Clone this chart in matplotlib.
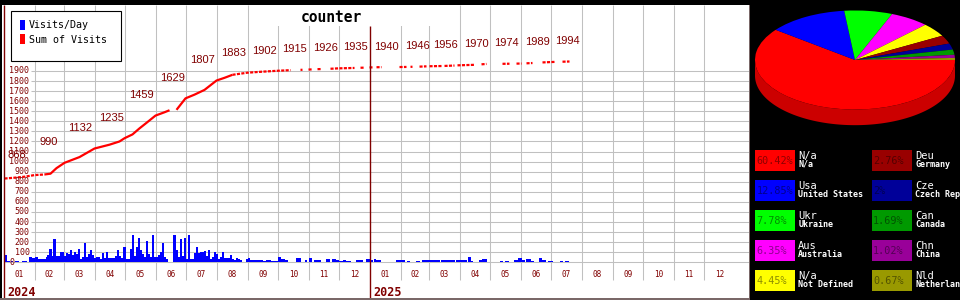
import numpy as np
import matplotlib
matplotlib.use('Agg')
import matplotlib.pyplot as plt
import matplotlib.colors as mcolors
from matplotlib.patches import Rectangle, Polygon

nan = np.nan

# === DATA ===
# visits per day (chart scale), one list per month
jan24 = [75, 75, 75, 15, 15, 15, 0, 15, 15, 0, 0, 15, 15, 15, 15, 0, 0, 0, 15, 15, 15, 15, 15, 0, 0, 57, 57, 57, 47, 47, 47]
feb24 = [57, 57, 57, 35, 35, 35, 35, 35, 35, 35, 35, 50, 73, 73, 133, 133, 133, 60, 230, 230, 230, 67, 67, 67, 67, 107, 107, 107, 107]
mar24 = [67, 67, 97, 97, 80, 80, 123, 123, 73, 73, 100, 100, 80, 80, 133, 133, 33, 33, 57, 57, 187, 187, 57, 57, 80, 80, 120, 120, 73, 73, 47]
apr24 = [47, 57, 57, 57, 57, 33, 33, 90, 90, 40, 40, 107, 107, 40, 40, 40, 40, 40, 40, 40, 67, 67, 123, 123, 67, 67, 47, 47, 147, 147]
may24 = [147, 33, 33, 33, 33, 133, 133, 273, 273, 67, 67, 147, 147, 240, 240, 123, 123, 80, 80, 57, 57, 213, 213, 80, 80, 57, 57, 273, 273, 57, 57]
jun24 = [57, 57, 73, 73, 107, 107, 187, 187, 57, 57, 33, 33, 0, 0, 0, 0, 0, 273, 273, 273, 123, 123, 57, 57, 227, 227, 67, 67, 240, 240]
jul24 = [33, 33, 267, 267, 33, 33, 33, 33, 90, 90, 147, 147, 90, 90, 107, 107, 107, 107, 110, 110, 67, 67, 123, 123, 33, 33, 57, 57, 107, 107, 80]
aug24 = [80, 33, 33, 57, 57, 107, 107, 47, 47, 40, 40, 40, 40, 73, 73, 33, 33, 23, 23, 40, 40, 33, 33, 23, 23, 0, 0, 0, 0, 33, 33]
sep24 = [47, 47, 23, 23, 23, 20, 23, 23, 23, 20, 23, 23, 23, 20, 23, 10, 10, 10, 20, 20, 20, 20, 20, 17, 17, 17, 17, 17, 17, 17]
oct24 = [50, 50, 50, 30, 30, 30, 30, 20, 20, 20, 0, 0, 0, 0, 0, 0, 0, 0, 40, 40, 40, 40, 40, 0, 0, 0, 0, 20, 20, 0, 0]
nov24 = [47, 47, 47, 0, 0, 20, 20, 20, 20, 20, 20, 20, 0, 0, 0, 0, 0, 30, 30, 30, 30, 0, 0, 33, 33, 33, 33, 20, 20, 20]
dec24 = [17, 17, 17, 17, 20, 20, 20, 17, 17, 17, 17, 17, 0, 0, 0, 0, 0, 20, 20, 20, 20, 20, 20, 20, 0, 0, 0, 30, 30, 30, 30]
jan25 = [20, 20, 20, 0, 30, 30, 25, 25, 25, 25, 25, 0, 0, 0, 0, 0, 0, 0, 0, 0, 0, 0, 0, 0, 0, 0, 20, 20, 20, 20, 20]
feb25 = [20, 20, 20, 20, 0, 0, 15, 15, 15, 0, 0, 0, 0, 0, 0, 15, 15, 15, 15, 0, 0, 20, 20, 20, 20, 20, 20, 20]
mar25 = [20, 20, 20, 20, 20, 20, 20, 20, 20, 20, 20, 0, 20, 20, 20, 20, 20, 20, 20, 20, 20, 20, 20, 20, 20, 20, 0, 20, 20, 20, 20]
apr25 = [25, 25, 25, 25, 25, 25, 25, 0, 55, 55, 55, 15, 15, 0, 0, 0, 0, 0, 0, 20, 20, 20, 35, 35, 35, 35, 35, 0, 0, 0]
may25 = [0, 0, 0, 0, 0, 0, 0, 0, 0, 0, 15, 15, 15, 0, 0, 15, 15, 15, 15, 0, 0, 0, 0, 0, 20, 20, 20, 20, 45, 45, 45]
jun25 = [45, 20, 20, 20, 0, 30, 30, 30, 30, 30, 15, 15, 15, 0, 0, 0, 0, 0, 45, 45, 45, 20, 20, 20, 20, 0, 0, 15, 15, 15]
jul25 = [15, 15, 0, 0, 0, 0, 0, 0, 0, 15, 15, 15, 0, 0, 15, 15, 15, 15, 0, 0, 0, 0, 0, 0, 0, 0, 0, 0, 0, 0, 0]

# sum of visits (day index from 2024-01-01, nan = no data)
sum_days = [0, 10, 20, 30, 40, 46, 52, 60, 75, 90, 105, 115, 120, 128, 135, 142, 151, 160, 165, 168,
            172, 178, 181, 190, 200, 212, 220, 228, 243, 258, 273, 286, 290, 296, 298, 300, 304, 308,
            310, 313, 317, 320, 326, 334, 350, 353, 356, 360, 362, 365, 368, 370, 372, 377, 385, 395,
            402, 404, 406, 408, 411, 415, 422, 423, 425, 437, 438, 440, 450, 451, 453, 470, 473, 477,
            482, 490, 498, 505, 508, 512, 517, 519, 522, 528, 532, 538, 550, 554, 558, 565]
sum_vals = [832, 840, 850, 866, 872, 880, 935, 988, 1045, 1130, 1168, 1200, 1232, 1270, 1330, 1385, 1457, 1490, 1510, nan,
            1514, 1590, 1628, 1665, 1712, 1805, 1832, 1862, 1883, 1893, 1902, 1908, nan, 1911, 1912, nan, 1914, 1916,
            nan, 1918, 1919, nan, 1922, 1926, 1930, nan, 1932, 1933, nan, 1935, 1936, nan, 1937, 1938, nan, 1939,
            1940, nan, 1941, 1942, nan, 1943, 1946, nan, 1947, 1949, nan, 1950, 1954, nan, 1956, 1961, nan, 1966,
            1970, nan, 1971, 1972, nan, 1973, 1974, nan, 1976, 1979, nan, 1985, 1990, nan, 1992, 1994]

# total at the end of each month (labels)
month_totals = [868, 990, 1132, 1235, 1459, 1629, 1807, 1883, 1902, 1915, 1926, 1935,
                1940, 1946, 1956, 1970, 1974, 1989, 1994]

months = ['01', '02', '03', '04', '05', '06', '07', '08', '09', '10', '11', '12']
years = ['2024', '2025']
days_2024 = [31, 29, 31, 30, 31, 30, 31, 31, 30, 31, 30, 31]
days_2025 = [31, 28, 31, 30, 31, 30, 31, 31, 30, 31, 30, 31]

# countries
country_pct = [60.42, 12.85, 7.78, 6.35, 4.45, 2.76, 2, 1.69, 1.02, 0.67]
country_code = ['N/a', 'Usa', 'Ukr', 'Aus', 'N/a', 'Deu', 'Cze', 'Can', 'Chn', 'Nld']
country_name = ['N/a', 'United States', 'Ukraine', 'Australia', 'Not Defined',
                'Germany', 'Czech Republic', 'Canada', 'China', 'Netherlands']
country_colors = ['#ff0000', '#0000ff', '#00ff00', '#ff00ff', '#ffff00',
                  '#990000', '#000099', '#009900', '#990099', '#999900']

# === STILE ===
MONO = 'DejaVu Sans Mono'
DARKRED = '#800000'
GRID = '#c0c0c0'

fig = plt.figure(figsize=(9.6, 3.0), dpi=100)
fig.patch.set_facecolor('white')

# === GRAFICO VISITE ===
ax = fig.add_axes([0, 0, 750 / 960, 1], zorder=1)
ax.set_xlim(-4, 746)
ax.set_ylim(-374.4, 2604.8)
ax.axis('off')

month_len = days_2024 + days_2025
month_start = np.concatenate([[0], np.cumsum(month_len)[:-1]])
month_mid = month_start + np.array(month_len) / 2
year_start = [0, sum(days_2024)]

ax.hlines(range(100, 2000, 100), 27, 744.5, color=GRID, lw=0.75, zorder=1)
ax.hlines(0, 0, 744.5, color=GRID, lw=0.75, zorder=1)
ax.vlines([s for s in month_start if s not in year_start], -176, 2560, color=GRID, lw=0.75, zorder=1)
ax.vlines(year_start[1], -355, 2346, color=DARKRED, lw=1.0, zorder=4)
ax.vlines(-0.5, -355, 2560, color=DARKRED, lw=1.0, zorder=4)

visits = np.array(jan24 + feb24 + mar24 + apr24 + may24 + jun24 + jul24 + aug24 + sep24 + oct24 +
                  nov24 + dec24 + jan25 + feb25 + mar25 + apr25 + may25 + jun25 + jul25)
days = np.arange(len(visits))
has = visits > 0
ax.bar(days[has], visits[has], width=1, align='edge', color='#0000ff', linewidth=0, zorder=2)

sd = np.array(sum_days)
sv = np.array(sum_vals, dtype=float)
solid = np.where((sd >= 40) & (sd <= 228), sv, nan)
dotted = np.where((sd <= 40) | (sd >= 228), sv, nan)
ax.plot(sd + 0.5, solid, color='#ff0000', lw=1.6, solid_capstyle='butt', zorder=3)
ax.plot(sd + 0.5, dotted, color='#ff0000', lw=1.6, dashes=(1.4, 0.6), zorder=3)

for i, tot in enumerate(month_totals):
    ax.text(month_start[i] + 4, tot + 200, str(tot), ha='left', va='center',
            fontsize=8, family='Liberation Sans', color=DARKRED, zorder=5)

for v in range(100, 2000, 100):
    ax.text(25.5, v, str(v), ha='right', va='center', fontsize=6, family=MONO, color=DARKRED)
ax.text(6, 0, '0', ha='left', va='center', fontsize=6, family=MONO, color=DARKRED)

for i in range(len(month_start)):
    ax.text(month_mid[i], -118, months[i % 12], ha='center', va='center',
            fontsize=5.5, family=MONO, color=DARKRED)
for s, y in zip(year_start, years):
    ax.text(s + 3, -295, y, ha='left', va='center', fontsize=8.5, family=MONO,
            weight='bold', color=DARKRED)

# === CORNICE, LEGENDA, TITOLO ===
ov = fig.add_axes([0, 0, 1, 1], zorder=2)
ov.set_xlim(0, 960)
ov.set_ylim(300, 0)
ov.axis('off')
ov.add_patch(Rectangle((750, 0), 210, 300, color='black', lw=0))
ov.add_patch(Rectangle((0, 0), 750, 4.5, color='black', lw=0))
ov.add_patch(Rectangle((0, 0), 1.5, 300, color='black', lw=0))
ov.add_patch(Rectangle((0, 298), 750, 2, color='#7a6868', lw=0))
ov.add_patch(Rectangle((748.5, 4.5), 1.5, 295.5, color='#7a6868', lw=0))

ov.add_patch(Rectangle((251, 4.5), 206, 21.5, color='white', lw=0))
ov.text(331, 18, 'counter', ha='center', va='center', fontsize=10.5, family=MONO, weight='bold')

ov.add_patch(Rectangle((10.5, 10.5), 110, 50, facecolor='white', edgecolor='black', lw=0.8))
ov.add_patch(Rectangle((20, 20), 5.3, 10, color='#0000ff', lw=0))
ov.add_patch(Rectangle((20, 34.3), 5.3, 10, color='#ff0000', lw=0))
ov.text(29, 25.5, 'Visits/Day', ha='left', va='center', fontsize=7.2, family=MONO)
ov.text(29, 39.8, 'Sum of Visits', ha='left', va='center', fontsize=7.2, family=MONO)

# legenda paesi
for i, (p, code, name, c) in enumerate(zip(country_pct, country_code, country_name, country_colors)):
    bx = 755 if i < 5 else 871.7
    by = 150 + 30 * (i % 5)
    ov.add_patch(Rectangle((bx, by), 40, 20.7, color=c, lw=0))
    ov.text(bx + 1.5, by + 10.8, f'{p:g}%', ha='left', va='center', fontsize=7.3,
            family=MONO, color='black', alpha=0.45)
    ov.text(bx + 43.3, by + 5.6, code, ha='left', va='center', fontsize=7.5,
            family=MONO, color='white')
    ov.text(bx + 43.3, by + 14.4, name, ha='left', va='center', fontsize=6,
            family=MONO, weight='bold', color='white')

# === TORTA 3D ===
pa = fig.add_axes([753 / 960, (300 - 128) / 300, 204 / 960, 120 / 300], zorder=3)
wedges, _ = pa.pie(country_pct, colors=country_colors, startangle=0, counterclock=False,
                   radius=1, wedgeprops=dict(linewidth=0))
pa.set_aspect('auto')
pa.set_xlim(-1.02, 1.02)
pa.set_ylim(-1.374, 1.05)
pa.axis('off')

depth = 0.317
edges = -360 * np.concatenate([[0], np.cumsum(country_pct)]) / sum(country_pct)
for k, c in enumerate(country_colors):
    t = np.radians(np.linspace(edges[k], edges[k + 1], 200))
    t = t[np.sin(t) <= 0]
    if len(t) < 2:
        continue
    xs = np.cos(t)
    ys = np.sin(t)
    pts = np.column_stack([np.concatenate([xs, xs[::-1]]),
                           np.concatenate([ys, ys[::-1] - depth])])
    side = np.array(mcolors.to_rgb(c)) * 0.8
    pa.add_patch(Polygon(pts, closed=True, color=side, lw=0, zorder=0.5))

fig.savefig('out.png', dpi=100, facecolor='white')
